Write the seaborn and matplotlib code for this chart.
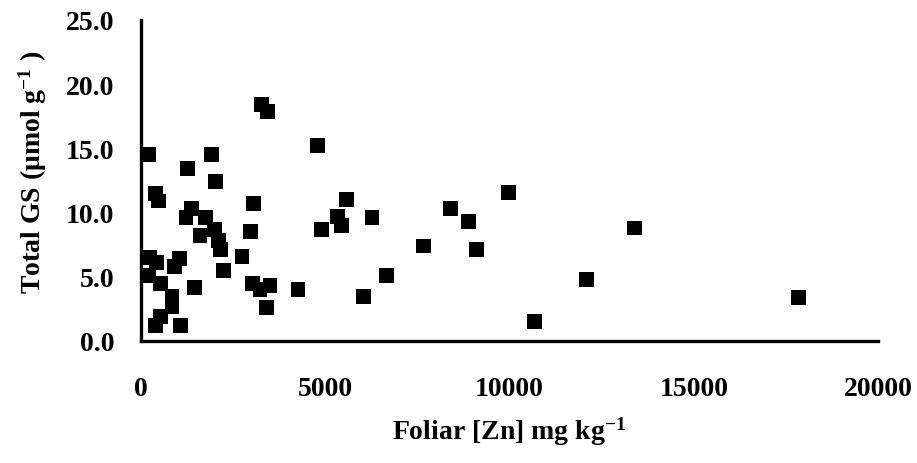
import matplotlib
matplotlib.use("Agg")
import matplotlib.pyplot as plt
import seaborn as sns
import pandas as pd
from matplotlib.ticker import FormatStrFormatter

foliar_zn = [3280, 3440, 4800, 200, 1920, 1270, 2030, 400, 470, 5570,
             3060, 1380, 1220, 1760, 5340, 6270, 2000, 4910, 5450, 2960,
             1600, 2100, 2150, 7670, 2740, 1040, 900, 240, 430, 2240,
             6660, 200, 520, 840, 840, 520, 400, 1060, 1440, 3030,
             3500, 3230, 4260, 6040, 3400, 9970, 8400, 8880, 9100, 10670,
             13390, 12090, 17850]
total_gs = [18.4, 17.9, 15.2, 14.5, 14.5, 13.4, 12.4, 11.5, 10.9, 11.0,
            10.7, 10.3, 9.6, 9.6, 9.7, 9.6, 8.7, 8.7, 9.0, 8.5,
            8.2, 7.8, 7.1, 7.4, 6.6, 6.4, 5.8, 6.5, 6.1, 5.5,
            5.1, 5.1, 4.5, 3.5, 2.7, 1.9, 1.2, 1.2, 4.2, 4.5,
            4.3, 4.0, 4.0, 3.5, 2.6, 11.6, 10.3, 9.3, 7.1, 1.5,
            8.8, 4.8, 3.4]
x_ticks = [0, 5000, 10000, 15000, 20000]
y_ticks = [0, 5, 10, 15, 20, 25]

sns.set_style("white")
plt.rcParams["font.family"] = ["Liberation Serif", "DejaVu Serif"]
plt.rcParams["font.weight"] = "bold"
plt.rcParams["text.color"] = "black"
plt.rcParams["axes.labelcolor"] = "black"
plt.rcParams["xtick.color"] = "black"
plt.rcParams["ytick.color"] = "black"
plt.rcParams["mathtext.fontset"] = "custom"
plt.rcParams["mathtext.rm"] = "Liberation Serif:bold"
plt.rcParams["mathtext.it"] = "Liberation Serif:bold"
plt.rcParams["mathtext.bf"] = "Liberation Serif:bold"
plt.rcParams["mathtext.default"] = "rm"

df = pd.DataFrame({"zn": foliar_zn, "gs": total_gs})

fig = plt.figure(figsize=(9.17, 4.64), dpi=100)
ax = fig.add_axes([141/917, 1-342/464, (878-141)/917, (342-21)/464])
sns.scatterplot(data=df, x="zn", y="gs", marker="s", s=115, color="black",
                edgecolor="none", linewidth=0, ax=ax, clip_on=False)

ax.set_xlim(0, 20000)
ax.set_ylim(0, 25)
ax.set_xticks(x_ticks)
ax.set_yticks(y_ticks)
ax.yaxis.set_major_formatter(FormatStrFormatter("%.1f"))
for s in ["top", "right"]:
    ax.spines[s].set_visible(False)
for s in ["left", "bottom"]:
    ax.spines[s].set_linewidth(2.4)
    ax.spines[s].set_color("black")
ax.tick_params(axis="both", direction="out", length=7, width=2.4, color="black",
               labelsize=20)
ax.tick_params(axis="y", pad=12)
ax.tick_params(axis="x", pad=18)
for lab in ax.get_xticklabels() + ax.get_yticklabels():
    lab.set_fontweight("bold")
ax.set_xlabel("Foliar [Zn] mg kg$^{-1}$", fontsize=20, fontweight="bold", labelpad=10)
ax.set_ylabel("Total GS (μmol g$^{-1}$ )", fontsize=20, fontweight="bold")
ax.yaxis.set_label_coords(-0.125, 0.53)
ax.grid(False)

fig.savefig("out.png", dpi=100)
